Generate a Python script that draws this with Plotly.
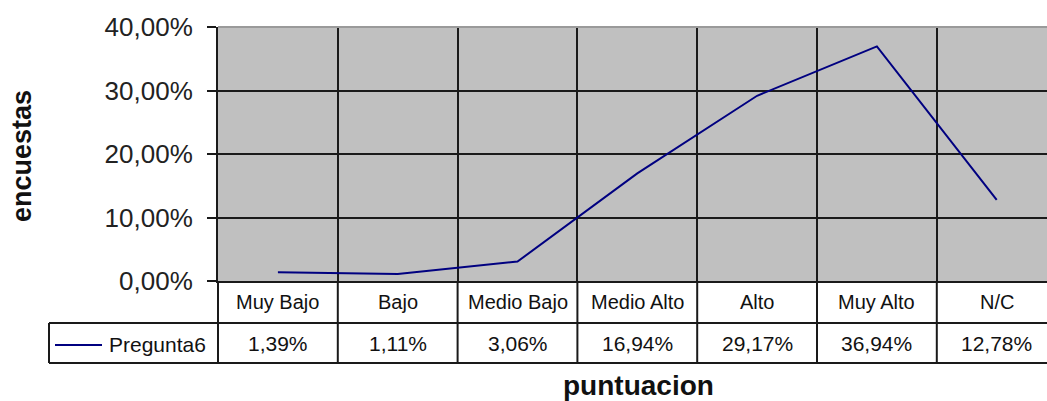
import plotly.graph_objects as go

# ---- data ----
series_name = "Pregunta6"
categories = ["Muy Bajo", "Bajo", "Medio Bajo", "Medio Alto", "Alto", "Muy Alto", "N/C"]
values = [1.39, 1.11, 3.06, 16.94, 29.17, 36.94, 12.78]
y_ticks = [0, 10, 20, 30, 40]
x_title = "puntuacion"
y_title = "encuestas"

# ---- layout geometry (pixels) ----
W, H = 1047, 401
L, R, T, B = 218, 0, 27, 120
PW = W - L - R
PH = H - T - B
COL = 119.8
X0 = -0.5
X1 = X0 + PW / COL

FONT = "Arial, Liberation Sans, sans-serif"
LINE = "#1a1a1a"
NAVY = "#000080"


def px_x(p):
    return (p - L) / PW


def px_y(p):
    return (H - B - p) / PH


def data_to_paper(xv):
    return (xv - X0) / (X1 - X0)


def fmt_pct(v):
    return f"{v:.2f}%".replace(".", ",")


idx = list(range(len(categories)))

fig = go.Figure()
fig.add_trace(go.Scatter(
    x=idx, y=values, mode="lines", name=series_name,
    line=dict(color=NAVY, width=2), showlegend=False, hoverinfo="skip"))

shapes = []
row1_top, row1_bot, row2_bot = H - B, 323, 363
# table horizontal lines
for yp in (row1_bot, row2_bot):
    shapes.append(dict(type="line", xref="paper", yref="paper",
                       x0=px_x(49), x1=1.02, y0=px_y(yp), y1=px_y(yp),
                       line=dict(color=LINE, width=2), layer="above"))
# left vertical lines
shapes.append(dict(type="line", xref="paper", yref="paper",
                   x0=0, x1=0, y0=0, y1=px_y(row2_bot),
                   line=dict(color=LINE, width=2), layer="above"))
shapes.append(dict(type="line", xref="paper", yref="paper",
                   x0=px_x(49), x1=px_x(49), y0=px_y(row1_bot), y1=px_y(row2_bot),
                   line=dict(color=LINE, width=2), layer="above"))
# category boundary verticals in the table
for k in range(1, len(categories)):
    xp = data_to_paper(k - 0.5)
    shapes.append(dict(type="line", xref="paper", yref="paper",
                       x0=xp, x1=xp, y0=0, y1=px_y(row2_bot),
                       line=dict(color=LINE, width=2), layer="above"))
# top border (gray)
shapes.append(dict(type="line", xref="paper", yref="paper",
                   x0=0, x1=1, y0=1, y1=1,
                   line=dict(color="#9a9a9a", width=2), layer="above"))
# legend key line
shapes.append(dict(type="line", xref="paper", yref="paper",
                   x0=px_x(55), x1=px_x(102), y0=px_y(345), y1=px_y(345),
                   line=dict(color=NAVY, width=2), layer="above"))

annotations = []
for i, c in enumerate(categories):
    annotations.append(dict(x=i, xref="x", y=px_y((row1_top + row1_bot) / 2), yref="paper",
                            text=c, showarrow=False, xanchor="center", yanchor="middle",
                            font=dict(family=FONT, size=20, color="#111")))
for i, v in enumerate(values):
    annotations.append(dict(x=i, xref="x", y=px_y((row1_bot + row2_bot) / 2), yref="paper",
                            text=fmt_pct(v), showarrow=False,
                            xanchor="center", yanchor="middle",
                            font=dict(family=FONT, size=21, color="#111")))
annotations.append(dict(x=px_x(107), xref="paper", y=px_y(344), yref="paper",
                        text=series_name, showarrow=False, xanchor="left", yanchor="middle",
                        font=dict(family=FONT, size=21, color="#111")))
annotations.append(dict(x=px_x(638), xref="paper", y=px_y(385), yref="paper",
                        text=f"<b>{x_title}</b>", showarrow=False, xanchor="center", yanchor="middle",
                        font=dict(family=FONT, size=28, color="#111")))
annotations.append(dict(x=px_x(22), xref="paper", y=px_y(156), yref="paper",
                        text=f"<b>{y_title}</b>", showarrow=False, xanchor="center", yanchor="middle",
                        textangle=-90, font=dict(family=FONT, size=27, color="#111")))

fig.update_layout(
    width=W, height=H,
    margin=dict(l=L, r=R, t=T, b=B, pad=0),
    paper_bgcolor="white", plot_bgcolor="#c0c0c0",
    separators=",.",
    shapes=shapes, annotations=annotations,
    xaxis=dict(range=[X0, X1], tickvals=[k - 0.5 for k in range(1, len(categories))],
               showticklabels=False, ticks="", showgrid=True, gridcolor=LINE, gridwidth=2,
               zeroline=False, showline=True, linecolor=LINE, linewidth=2, fixedrange=True),
    yaxis=dict(range=[0, 40], tickmode="array", tickvals=y_ticks,
               ticktext=[fmt_pct(t) for t in y_ticks],
               ticks="outside", ticklen=9, tickwidth=2, tickcolor=LINE,
               ticklabelstandoff=9,
               tickfont=dict(family=FONT, size=26, color="#222"),
               showgrid=True, gridcolor=LINE, gridwidth=2, zeroline=False,
               showline=True, linecolor=LINE, linewidth=2, fixedrange=True),
)

fig.write_html("out.html", config={"displayModeBar": False, "staticPlot": True},
               post_script="document.body.style.margin='0';document.body.style.overflow='hidden';")
